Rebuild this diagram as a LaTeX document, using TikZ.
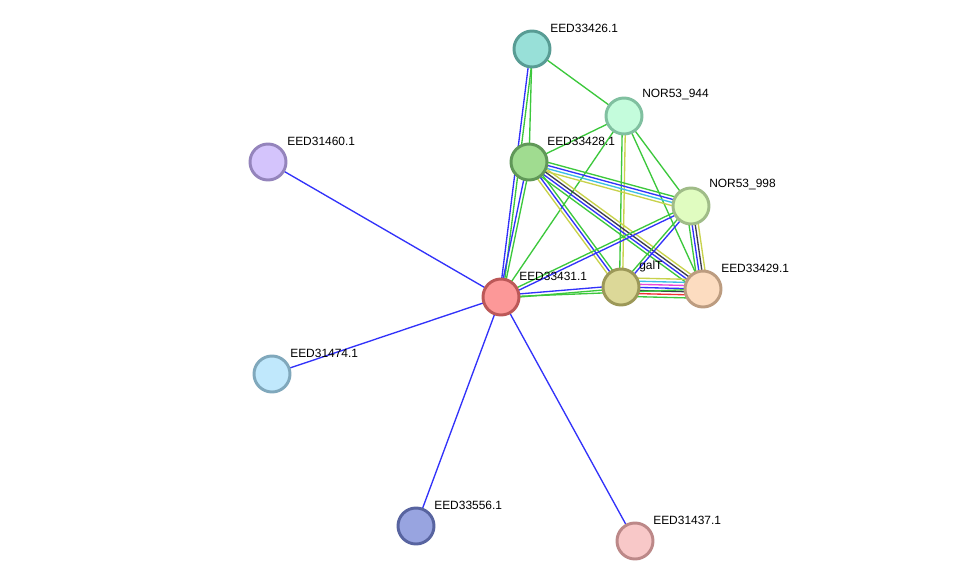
\documentclass[tikz,border=0pt]{standalone}
\usepackage{fontspec}
\setmainfont{Liberation Sans}
\usetikzlibrary{calc}

\definecolor{egreen}{HTML}{3CC83C}
\definecolor{eblue}{HTML}{3232FA}
\definecolor{ecyan}{HTML}{3CBEE6}
\definecolor{eyellow}{HTML}{C8D24B}
\definecolor{emagenta}{HTML}{E646DC}
\definecolor{edark}{HTML}{3C3C50}
\definecolor{ered}{HTML}{F03232}

% parallel lines between two points, one per colour
\newcommand{\edgebundle}[4]{%
  \foreach \c [count=\i] in {#4} {
    \pgfmathsetmacro{\off}{((#3+1)/2-\i)*2.2}
    \draw[edge,\c] ($(#1)!\off pt!90:(#2)$) -- ($(#2)!\off pt!-90:(#1)$);
  }}

\begin{document}
\begin{tikzpicture}[x=0.025cm,y=-0.025cm]
\tikzstyle{edge} = [line width=0.95pt]
\tikzstyle{prot} = [circle, line width=2.1pt, minimum size=0.9cm, inner sep=0pt]
\tikzstyle{plabel} = [anchor=west, inner sep=0pt, font=\fontsize{8.5}{10}\selectfont]
\useasboundingbox (0,0) rectangle (976,587);
\fill[white] (0,0) rectangle (976,587);

\coordinate (c33426) at (532,49);
\coordinate (c944) at (624,116);
\coordinate (c33428) at (529,162);
\coordinate (c31460) at (268,162);
\coordinate (c998) at (691,206);
\coordinate (cgalT) at (621,287);
\coordinate (c33429) at (703,289);
\coordinate (c33431) at (501,297);
\coordinate (c31474) at (272,374);
\coordinate (c33556) at (416,526);
\coordinate (c31437) at (635,541);

% edges
\edgebundle{c33426}{c33431}{2}{egreen,eblue}
\edgebundle{c33426}{c33428}{1}{egreen}
\edgebundle{c33426}{c944}{1}{egreen}
\edgebundle{c944}{c33428}{1}{egreen}
\edgebundle{c944}{c33431}{1}{egreen}
\edgebundle{c944}{cgalT}{2}{eyellow,egreen}
\edgebundle{c944}{c33429}{1}{egreen}
\edgebundle{c944}{c998}{1}{egreen}
\edgebundle{c33428}{c33431}{2}{egreen,eblue}
\edgebundle{c33428}{c998}{4}{egreen,eblue,ecyan,eyellow}
\edgebundle{c33428}{c33429}{4}{eyellow,edark,eblue,egreen}
\edgebundle{c33428}{cgalT}{3}{egreen,eblue,eyellow}
\edgebundle{c998}{c33429}{4}{eyellow,edark,eblue,egreen}
\edgebundle{c998}{cgalT}{2}{eblue,egreen}
\edgebundle{c998}{c33431}{2}{eblue,egreen}
\edgebundle{cgalT}{c33429}{7}{eyellow,ecyan,emagenta,eblue,edark,ered,egreen}
\edgebundle{c33431}{cgalT}{2}{eblue,egreen}
\edgebundle{c33431}{c33429}{1}{egreen}
\edgebundle{c33431}{c31460}{1}{eblue}
\edgebundle{c33431}{c31474}{1}{eblue}
\edgebundle{c33431}{c33556}{1}{eblue}
\edgebundle{c33431}{c31437}{1}{eblue}

% proteins
\node[prot, fill={rgb,255:red,152;green,224;blue,216}, draw={rgb,255:red,88;green,156;blue,148}] (n33426) at (c33426) {};
\node[prot, fill={rgb,255:red,196;green,252;blue,220}, draw={rgb,255:red,128;green,192;blue,160}] (n944) at (c944) {};
\node[prot, fill={rgb,255:red,160;green,220;blue,144}, draw={rgb,255:red,96;green,152;blue,88}] (n33428) at (c33428) {};
\node[prot, fill={rgb,255:red,212;green,196;blue,252}, draw={rgb,255:red,148;green,132;blue,188}] (n31460) at (c31460) {};
\node[prot, fill={rgb,255:red,224;green,252;blue,192}, draw={rgb,255:red,160;green,188;blue,136}] (n998) at (c998) {};
\node[prot, fill={rgb,255:red,220;green,216;blue,152}, draw={rgb,255:red,156;green,152;blue,88}] (ngalT) at (cgalT) {};
\node[prot, fill={rgb,255:red,252;green,220;blue,192}, draw={rgb,255:red,188;green,156;blue,128}] (n33429) at (c33429) {};
\node[prot, fill={rgb,255:red,252;green,152;blue,152}, draw={rgb,255:red,188;green,88;blue,88}] (n33431) at (c33431) {};
\node[prot, fill={rgb,255:red,192;green,232;blue,252}, draw={rgb,255:red,128;green,168;blue,188}] (n31474) at (c31474) {};
\node[prot, fill={rgb,255:red,152;green,164;blue,224}, draw={rgb,255:red,88;green,100;blue,160}] (n33556) at (c33556) {};
\node[prot, fill={rgb,255:red,248;green,200;blue,200}, draw={rgb,255:red,188;green,136;blue,136}] (n31437) at (c31437) {};

% labels
\node[plabel] (l33426) at ($(c33426)+(18,-21)$) {EED33426.1};
\node[plabel] (l944) at ($(c944)+(18,-21)$) {NOR53\_944};
\node[plabel] (l33428) at ($(c33428)+(18,-21)$) {EED33428.1};
\node[plabel] (l31460) at ($(c31460)+(19,-21)$) {EED31460.1};
\node[plabel] (l998) at ($(c998)+(18,-21)$) {NOR53\_998};
\node[plabel] (lgalT) at ($(cgalT)+(18,-21)$) {galT};
\node[plabel] (l33429) at ($(c33429)+(18,-21)$) {EED33429.1};
\node[plabel] (l33431) at ($(c33431)+(18,-21)$) {EED33431.1};
\node[plabel] (l31474) at ($(c31474)+(18,-21)$) {EED31474.1};
\node[plabel] (l33556) at ($(c33556)+(18,-21)$) {EED33556.1};
\node[plabel] (l31437) at ($(c31437)+(18,-21)$) {EED31437.1};
\end{tikzpicture}
\end{document}
